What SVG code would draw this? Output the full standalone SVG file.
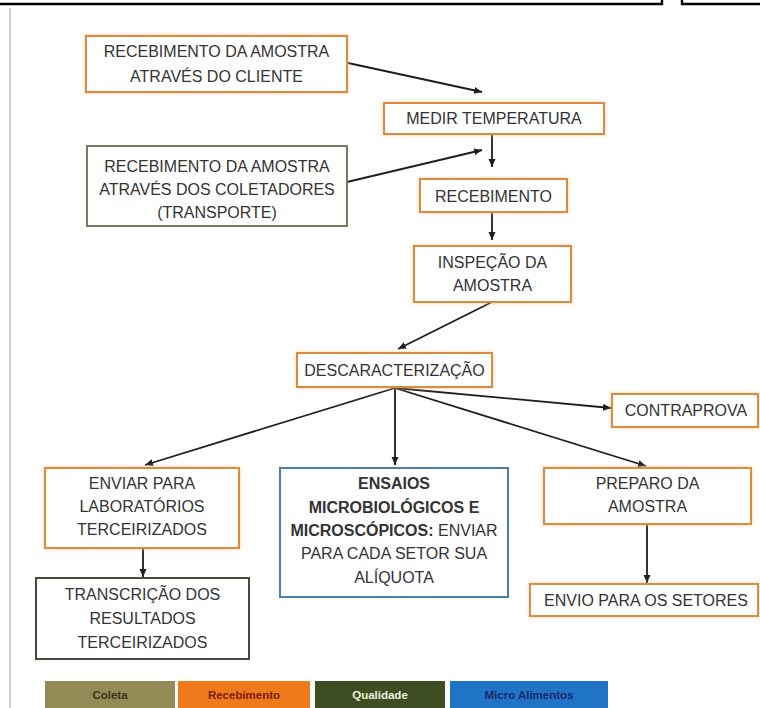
<svg xmlns="http://www.w3.org/2000/svg" width="760" height="708" viewBox="0 0 760 708">
<style>
.box{fill:#ffffff;stroke-width:2}
.or{stroke:#dc8a3c;filter:url(#glow)}
.col{stroke:#7d7760}
.qual{stroke:#4a4a3c}
.mic{stroke:#4d7fa6}
text{font-family:"Liberation Sans",Arial,sans-serif;font-size:16px;fill:#333;text-anchor:middle}
.b{font-weight:bold}
.conn{stroke:#1e1e1e;stroke-width:1.8;fill:none;marker-end:url(#ah)}
text.leg{font-size:11.5px;font-weight:bold}
text.l1{fill:#3a3420}
text.l2{fill:#7a1e08}
text.l3{fill:#eef0dc}
text.l4{fill:#1a2a6a}
</style>
<defs>
<filter id="glow" x="-10%" y="-20%" width="120%" height="140%">
<feDropShadow dx="0" dy="0" stdDeviation="2" flood-color="#f6c690" flood-opacity="0.7"/>
</filter>
<marker id="ah" markerUnits="userSpaceOnUse" markerWidth="9" markerHeight="8" refX="8" refY="3.5" orient="auto">
<path d="M0,0 L8,3.5 L0,7 z" fill="#1e1e1e"/>
</marker>
</defs>
<rect width="760" height="708" fill="#ffffff"/>
<path d="M0,4 H662 V0" stroke="#000" stroke-width="2.4" fill="none"/>
<path d="M682,0 V4 H760" stroke="#000" stroke-width="2.4" fill="none"/>
<line x1="10" y1="8" x2="10" y2="708" stroke="#cccccc" stroke-width="2"/>

<g id="connectors">
<line class="conn" x1="348" y1="63" x2="482" y2="92"/>
<line class="conn" x1="347" y1="182" x2="482" y2="150"/>
<line class="conn" x1="492" y1="134" x2="492" y2="167"/>
<line class="conn" x1="492" y1="212" x2="492" y2="240"/>
<line class="conn" x1="492" y1="302" x2="398" y2="349"/>
<line class="conn" x1="395" y1="388" x2="145" y2="465"/>
<line class="conn" x1="395" y1="388" x2="395" y2="465"/>
<line class="conn" x1="395" y1="388" x2="646" y2="466"/>
<line class="conn" x1="395" y1="388" x2="611" y2="408"/>
<line class="conn" x1="143" y1="548" x2="143" y2="577"/>
<line class="conn" x1="647" y1="524" x2="647" y2="583"/>
</g>

<g id="n-cliente">
<rect class="box or" x="86" y="36" width="261" height="56"/>
<text x="216.5" y="57">RECEBIMENTO DA AMOSTRA</text>
<text x="216.5" y="82">ATRAVÉS DO CLIENTE</text>
</g>
<g id="n-medir">
<rect class="box or" x="384" y="103" width="220" height="31"/>
<text x="494" y="124">MEDIR TEMPERATURA</text>
</g>
<g id="n-coletadores">
<rect class="box col" x="87" y="146" width="260" height="80"/>
<text x="217" y="172">RECEBIMENTO DA AMOSTRA</text>
<text x="217" y="195">ATRAVÉS DOS COLETADORES</text>
<text x="217" y="218">(TRANSPORTE)</text>
</g>
<g id="n-recebimento">
<rect class="box or" x="420" y="179" width="147" height="33"/>
<text x="493.5" y="202">RECEBIMENTO</text>
</g>
<g id="n-inspecao">
<rect class="box or" x="414" y="246" width="157" height="56"/>
<text x="492.5" y="268">INSPEÇÃO DA</text>
<text x="492.5" y="291">AMOSTRA</text>
</g>
<g id="n-descaracterizacao">
<rect class="box or" x="297" y="353" width="195" height="34"/>
<text x="394.5" y="376">DESCARACTERIZAÇÃO</text>
</g>
<g id="n-contraprova">
<rect class="box or" x="612" y="394" width="146" height="33"/>
<text x="686" y="416">CONTRAPROVA</text>
</g>
<g id="n-enviar">
<rect class="box or" x="45" y="468" width="194" height="80"/>
<text x="142" y="489">ENVIAR PARA</text>
<text x="142" y="512">LABORATÓRIOS</text>
<text x="142" y="535">TERCEIRIZADOS</text>
</g>
<g id="n-ensaios">
<rect class="box mic" x="280" y="468" width="228" height="129"/>
<text class="b" x="394" y="489">ENSAIOS</text>
<text class="b" x="394" y="513">MICROBIOLÓGICOS E</text>
<text x="394" y="536"><tspan class="b">MICROSCÓPICOS:</tspan> ENVIAR</text>
<text x="394" y="559">PARA CADA SETOR SUA</text>
<text x="394" y="583">ALÍQUOTA</text>
</g>
<g id="n-preparo">
<rect class="box or" x="544" y="468" width="207" height="56"/>
<text x="647.5" y="489">PREPARO DA</text>
<text x="647.5" y="512">AMOSTRA</text>
</g>
<g id="n-transcricao">
<rect class="box qual" x="36" y="578" width="213" height="81"/>
<text x="142.5" y="600">TRANSCRIÇÃO DOS</text>
<text x="142.5" y="624">RESULTADOS</text>
<text x="142.5" y="648">TERCEIRIZADOS</text>
</g>
<g id="n-envio">
<rect class="box or" x="530" y="584" width="228" height="32"/>
<text x="646" y="606">ENVIO PARA OS SETORES</text>
</g>

<g id="legend">
<rect x="45" y="681" width="130" height="27" fill="#938a56"/>
<text class="leg l1" x="110" y="699">Coleta</text>
<rect x="178" y="681" width="132" height="27" fill="#ee7a1c"/>
<text class="leg l2" x="244" y="699">Recebimento</text>
<rect x="315" y="681" width="130" height="27" fill="#3f4d22"/>
<text class="leg l3" x="380" y="699">Qualidade</text>
<rect x="450" y="681" width="158" height="27" fill="#1f74c6"/>
<text class="leg l4" x="529" y="699">Micro Alimentos</text>
</g>
</svg>
